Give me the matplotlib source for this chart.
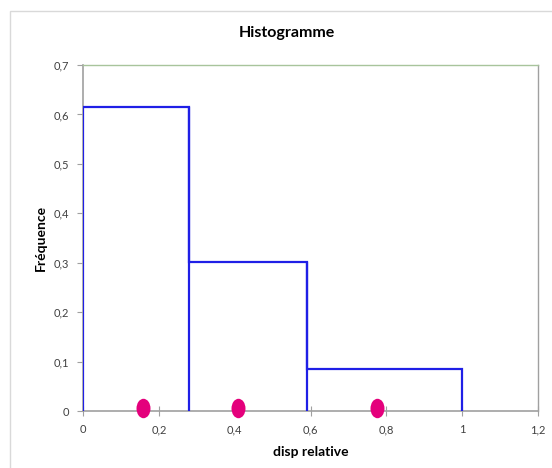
import matplotlib
matplotlib.use("Agg")
import matplotlib.pyplot as plt
from matplotlib.markers import MarkerStyle
from matplotlib.transforms import Affine2D
from matplotlib.patches import Rectangle
from matplotlib.ticker import FuncFormatter, MultipleLocator

# bornes des classes et fréquences relatives
bornes = [0, 0.28, 0.59, 1.0]
frequences = [0.615, 0.302, 0.084]
# centres des points magenta sur l'axe
points_x = [0.158, 0.41, 0.776]
points_y = [0.006, 0.006, 0.006]

plt.rcParams['font.family'] = ['Lato', 'DejaVu Sans']

fig = plt.figure(figsize=(5.52, 4.68), dpi=100)
# cadre du graphique façon Excel
fig.patches.append(Rectangle((10 / 552, -0.01), 1.0, 1 - 11 / 468 + 0.01,
                             transform=fig.transFigure, fill=False,
                             edgecolor='#d9d9d9', linewidth=1))
ax = fig.add_axes([83 / 552, 1 - 411 / 468, (538 - 83) / 552, (411 - 65) / 468])

# contour de l'histogramme (sans trait bleu sur l'axe des x)
bleu = '#1f1fe6'
ax.stairs(frequences, bornes, baseline=0, fill=False, edgecolor=bleu,
          linewidth=1.6, zorder=2)
ax.vlines(bornes[1:-1], 0, frequences[:-1], color=bleu, linewidth=1.6, zorder=2)

ellipse = MarkerStyle('o', transform=Affine2D().scale(0.72, 1.0))
ax.plot(points_x, points_y, linestyle='none', marker=ellipse, markersize=14,
        color='#e4007c', markeredgewidth=0, clip_on=False, zorder=4)

ax.set_xlim(0, 1.2)
ax.set_ylim(0, 0.7)
ax.xaxis.set_major_locator(MultipleLocator(0.2))
ax.yaxis.set_major_locator(MultipleLocator(0.1))
fmt = FuncFormatter(lambda v, p: f"{round(v, 2):g}".replace('.', ','))
ax.xaxis.set_major_formatter(fmt)
ax.yaxis.set_major_formatter(fmt)

for s in ['top', 'right']:
    ax.spines[s].set_color('#a8c49c')
    ax.spines[s].set_linewidth(1)
ax.spines['right'].set_color('#a0a0a0')
for s in ['left', 'bottom']:
    ax.spines[s].set_color('#a0a0a0')
    ax.spines[s].set_linewidth(1.2)
    ax.spines[s].set_zorder(1)

ax.tick_params(axis='y', direction='out', length=4, color='#a0a0a0',
               labelsize=8, labelcolor='#404040', pad=6)
ax.tick_params(axis='x', direction='inout', length=7, color='#a0a0a0',
               labelsize=8, labelcolor='#404040', pad=6)

fig.text(287 / 552, 1 - 33 / 468, 'Histogramme', fontsize=11.5,
         fontweight='bold', ha='center', va='center')
ax.set_xlabel('disp relative', fontsize=10, fontweight='bold', labelpad=8)
ax.set_ylabel('Fréquence', fontsize=10, fontweight='bold', labelpad=5)

fig.savefig('out.png', dpi=100)
